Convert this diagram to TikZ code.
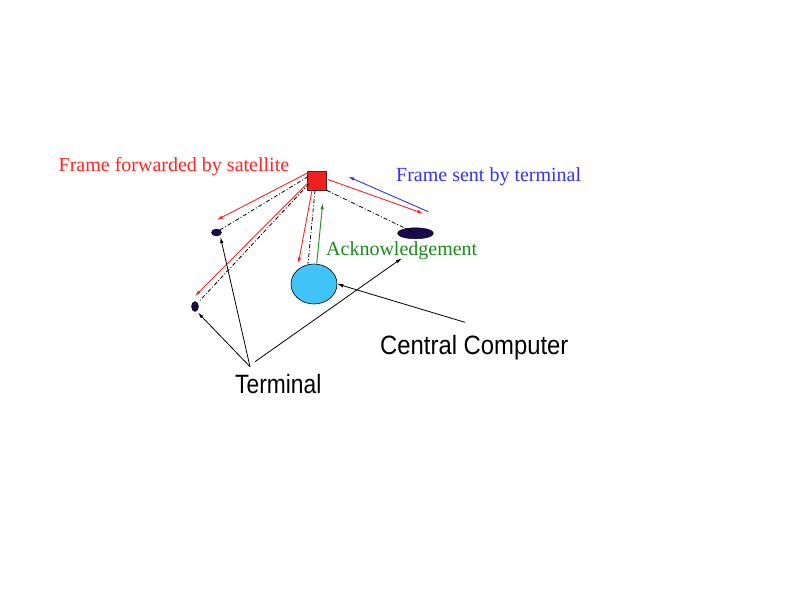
\documentclass[tikz,border=0pt]{standalone}
\usepackage{fontspec}
\setmainfont{Liberation Serif}
\setsansfont{Liberation Sans}
\usetikzlibrary{arrows.meta,shapes.geometric}
\definecolor{satred}{RGB}{240,32,32}
\definecolor{satedge}{RGB}{90,30,30}
\definecolor{navy}{RGB}{28,10,80}
\definecolor{ccblue}{RGB}{64,196,248}
\definecolor{lblred}{RGB}{255,38,38}
\definecolor{lblblue}{RGB}{51,51,255}
\definecolor{lblgreen}{RGB}{26,140,26}
\begin{document}
\begin{tikzpicture}[x=1pt,y=-1pt,
  sat/.style={draw=satedge,fill=satred,line width=0.8pt,minimum size=19pt,inner sep=0pt},
  term/.style={ellipse,draw=black,line width=0.4pt,fill=navy,inner sep=0pt},
  cc/.style={ellipse,draw=black,line width=0.6pt,fill=ccblue,minimum width=46pt,minimum height=40pt,inner sep=0pt},
  tip/.style={-{Latex[length=6pt,width=3.6pt]}},
  redarr/.style={tip,draw=lblred,line width=0.9pt},
  bluearr/.style={tip,draw=lblblue,line width=0.9pt},
  greenarr/.style={tip,draw=lblgreen,line width=0.9pt},
  blackarr/.style={tip,draw=black,line width=0.8pt},
  dashdot/.style={draw=black,line width=0.8pt,dash pattern=on 4pt off 2pt on 1pt off 2pt},
  serif/.style={font=\fontsize{20}{24}\selectfont,inner sep=0pt},
  sans/.style={inner sep=0pt}
]
\useasboundingbox (0,0) rectangle (794,595);
\fill[white] (0,0) rectangle (794,595);

% nodes
\node[sat] (sat) at (317,180.5) {};
\node[term,minimum width=10pt,minimum height=7pt] (t1) at (216.5,232.5) {};
\node[term,minimum width=7pt,minimum height=10pt] (t2) at (195,306.5) {};
\node[term,minimum width=36pt,minimum height=11pt] (t3) at (415.5,233.3) {};
\node[cc] (cc) at (314,284) {};

% labels
\node[serif,anchor=base west,text=lblred] (lfwd) at (58.5,171) {Frame forwarded by satellite};
\node[serif,anchor=base west,text=lblblue] (lsent) at (396,181.7) {Frame sent by terminal};
\node[serif,anchor=base west,text=lblgreen] (lack) at (326,255) {Acknowledgement};
\node[sans,anchor=base west] (lcc) at (380,354.3) {\scalebox{0.9}[1]{\fontsize{26.5}{30}\selectfont\sffamily Central Computer}};
\node[sans,anchor=base west] (lterm) at (235,393.3) {\scalebox{0.86}[1]{\fontsize{26.5}{30}\selectfont\sffamily Terminal}};

% end points
\coordinate (e1) at (216.7,220);
\coordinate (e2) at (195,296);
\coordinate (e3) at (298.3,263.5);
\coordinate (e4) at (423.3,213.5);
\coordinate (b1) at (428.3,211.7);
\coordinate (b2) at (348.3,176.7);
\coordinate (g1) at (316.7,263.5);
\coordinate (g2) at (322.7,203.3);
\coordinate (k1) at (250,366.7);
\coordinate (k2) at (255,361.7);
\coordinate (k3) at (465,322.3);
\coordinate (ack) at (401.7,258.3);

% dash-dot paths satellite - terminals/computer
\draw[dashdot] ([shift={(1,6)}]sat.north west) -- (t1.north east);
\draw[dashdot] ([shift={(2,13)}]sat.north west) -- ([shift={(1,-1)}]t2.north east);
\draw[dashdot] ([shift={(-2,0)}]sat.south) -- ([shift={(-6,0)}]cc.north);
\draw[dashdot] (sat.south east) -- (t3.center);

% red forwarded frames
\draw[redarr] ([shift={(1,2)}]sat.north west) -- (e1);
\draw[redarr] ([shift={(3,10)}]sat.north west) -- (e2);
\draw[redarr] ([shift={(-5,0)}]sat.south) -- (e3);
\draw[redarr] ([shift={(1,-1)}]sat.east) -- (e4);

% blue sent frame
\draw[bluearr] (b1) -- (b2);

% green acknowledgement
\draw[greenarr] (g1) -- (g2);

% black label pointers
\draw[blackarr] (k1) -- ([shift={(3,1)}]t2.south);
\draw[blackarr] (k1) -- ([shift={(4,1)}]t1.south);
\draw[blackarr] (k2) -- (ack);
\draw[blackarr] (k3) -- (cc.east);
\end{tikzpicture}
\end{document}
